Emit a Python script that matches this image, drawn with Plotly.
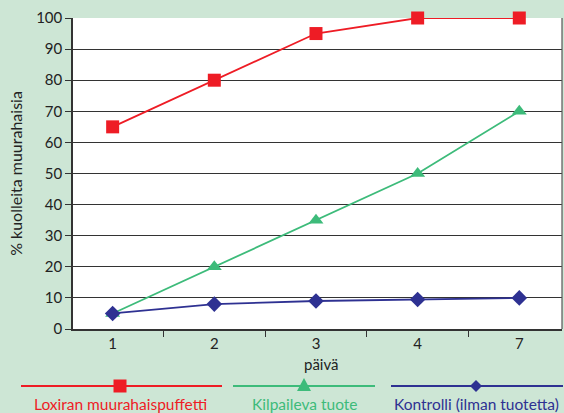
import plotly.graph_objects as go

days = ["1", "2", "3", "4", "7"]
loxiran = [65, 80, 95, 100, 100]
kilpaileva = [5, 20, 35, 50, 70]
kontrolli = [5, 8, 9, 9.5, 10]
names = ["Loxiran muurahaispuffetti", "Kilpaileva tuote", "Kontrolli (ilman tuotetta)"]
colors = ["#ee1c25", "#3dbb7a", "#2e3192"]
symbols = ["square", "triangle-up", "diamond"]
sizes = [13, 13, 12]

W, H = 564, 413
L, R, T, B = 73, 2, 18, 84
pw, ph = W - L - R, H - T - B

def px(x):
    return (x - L) / pw

def py(y):
    return (H - B - y) / ph

fig = go.Figure()
for vals, name, c, s, sz in zip([loxiran, kilpaileva, kontrolli], names, colors, symbols, sizes):
    fig.add_trace(go.Scatter(x=days, y=vals, name=name, mode="lines+markers",
                             line=dict(color=c, width=1.8),
                             marker=dict(symbol=s, size=sz, color=c),
                             cliponaxis=False, showlegend=False))

font = "Lato, 'Open Sans', sans-serif"
shapes = [dict(type="line", xref="paper", yref="paper", x0=1, x1=1, y0=0, y1=1,
               line=dict(color="#555", width=1.2))]
annotations = []
legend_items = [(21, 222, 120), (233, 375, 304), (391, 563, 476)]
ly = 386
for (x0, x1, xm), name, c, s in zip(legend_items, names, colors, symbols):
    shapes.append(dict(type="line", xref="paper", yref="paper", x0=px(x0), x1=px(x1),
                       y0=py(ly), y1=py(ly), line=dict(color=c, width=1.8)))
    if s == "square":
        shapes.append(dict(type="rect", xref="paper", yref="paper", x0=px(xm - 6.5), x1=px(xm + 6.5),
                           y0=py(ly + 6.5), y1=py(ly - 6.5), fillcolor=c, line=dict(width=0)))
    elif s == "triangle-up":
        path = "M {} {} L {} {} L {} {} Z".format(px(xm - 7), py(ly + 5), px(xm + 7), py(ly + 5), px(xm), py(ly - 8))
        shapes.append(dict(type="path", xref="paper", yref="paper", path=path, fillcolor=c, line=dict(width=0)))
    else:
        path = "M {} {} L {} {} L {} {} L {} {} Z".format(px(xm - 6), py(ly), px(xm), py(ly - 6), px(xm + 6), py(ly), px(xm), py(ly + 6))
        shapes.append(dict(type="path", xref="paper", yref="paper", path=path, fillcolor=c, line=dict(width=0)))
    annotations.append(dict(text=name, xref="paper", yref="paper", x=px(xm), y=py(404),
                            showarrow=False, font=dict(color=c, size=15.5, family=font),
                            xanchor="center", yanchor="middle"))

annotations.append(dict(text="päivä", xref="paper", yref="paper", x=px(321), y=py(364),
                        showarrow=False, font=dict(color="#222", size=15, family=font),
                        xanchor="center", yanchor="middle"))

fig.update_layout(
    width=W, height=H,
    margin=dict(l=L, r=R, t=T, b=B),
    paper_bgcolor="#cde6d5",
    plot_bgcolor="#ffffff",
    font=dict(family=font, color="#222", size=14),
    shapes=shapes,
    annotations=annotations,
    xaxis=dict(type="category", range=[-0.39, 4.42], showgrid=False, showline=True,
               linecolor="#333", linewidth=1.5,
               ticks="outside", tickson="boundaries", ticklen=6, tickcolor="#333",
               tickfont=dict(size=15, color="#222"), zeroline=False),
    yaxis=dict(range=[0, 100], dtick=10, showgrid=True, gridcolor="#333", gridwidth=1.2,
               showline=True, linecolor="#333", linewidth=1.5, ticks="outside", ticklen=6,
               tickcolor="#333", tickfont=dict(size=15, color="#222"), zeroline=False,
               title=dict(text="% kuolleita muurahaisia", font=dict(size=16, color="#222"), standoff=10)),
)
fig.write_html("out.html", config={"displayModeBar": False},
               post_script="document.body.style.margin='0';document.body.style.padding='0';")
